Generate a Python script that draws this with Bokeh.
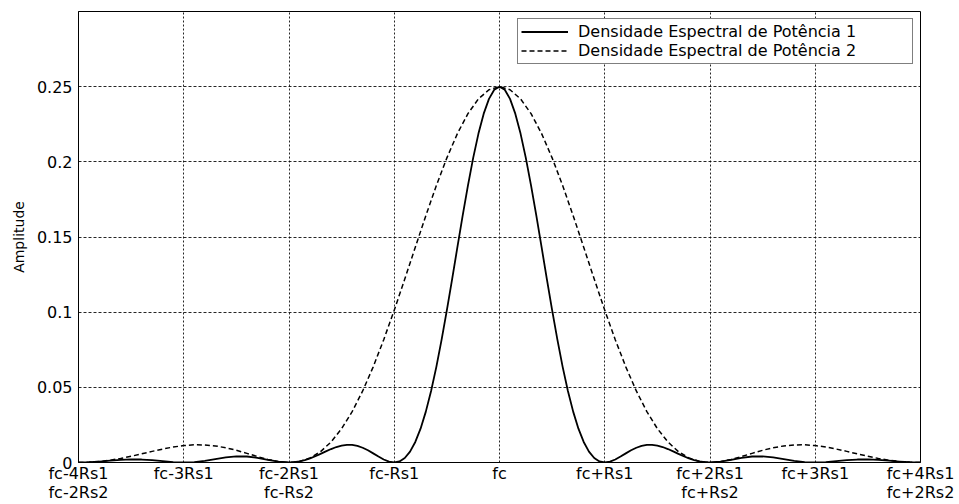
from bokeh.plotting import figure
from bokeh.models import Range1d, FixedTicker, Legend, LegendItem, ColumnDataSource
from bokeh.embed import file_html
from bokeh.resources import INLINE

# frequency offsets from fc, in units of Rs1 (Rs2 = 2*Rs1)
# curve 1 is sampled more finely around its main lobe
offsets1 = ([round(-4 + 0.1 * i, 1) for i in range(20)]
            + [round(-2 + 0.05 * i, 2) for i in range(81)]
            + [round(2.1 + 0.1 * i, 1) for i in range(20)])
offsets2 = [round(-4 + 0.1 * i, 1) for i in range(81)]

# Densidade Espectral de Potência 1
amp1 = [
    0.0, 0.00016, 0.00061, 0.00121, 0.00177, 0.00207, 0.00198, 0.00152, 0.00085, 0.00025,
    0.0, 0.00029, 0.00112, 0.00227, 0.00339, 0.00405, 0.00398, 0.00313, 0.00181, 0.00055,
    0.0, 0.00016, 0.00067, 0.00153, 0.00270, 0.00414, 0.00574, 0.00739, 0.00895, 0.01029,
    0.01126, 0.01175, 0.01169, 0.01103, 0.00981, 0.00811, 0.00608, 0.00395, 0.00200, 0.00056,
    0.0, 0.00069, 0.00299, 0.00723, 0.01367, 0.02252, 0.03384, 0.04760, 0.06364, 0.08169,
    0.10132, 0.12203, 0.14320, 0.16416, 0.18421, 0.20264, 0.21879, 0.23204, 0.24188, 0.24795,
    0.25000,
    0.24795, 0.24188, 0.23204, 0.21879, 0.20264, 0.18421, 0.16416, 0.14320, 0.12203, 0.10132,
    0.08169, 0.06364, 0.04760, 0.03384, 0.02252, 0.01367, 0.00723, 0.00299, 0.00069, 0.0,
    0.00056, 0.00200, 0.00395, 0.00608, 0.00811, 0.00981, 0.01103, 0.01169, 0.01175, 0.01126,
    0.01029, 0.00895, 0.00739, 0.00574, 0.00414, 0.00270, 0.00153, 0.00067, 0.00016, 0.0,
    0.00055, 0.00181, 0.00313, 0.00398, 0.00405, 0.00339, 0.00227, 0.00112, 0.00029, 0.0,
    0.00025, 0.00085, 0.00152, 0.00198, 0.00207, 0.00177, 0.00121, 0.00061, 0.00016, 0.0,
]

# Densidade Espectral de Potência 2
amp2 = [
    0.0, 0.00016, 0.00067, 0.00153, 0.00270, 0.00414, 0.00574, 0.00739, 0.00895, 0.01029,
    0.01126, 0.01175, 0.01169, 0.01103, 0.00981, 0.00811, 0.00608, 0.00395, 0.00200, 0.00056,
    0.0, 0.00069, 0.00299, 0.00723, 0.01367, 0.02252, 0.03384, 0.04760, 0.06364, 0.08169,
    0.10132, 0.12203, 0.14320, 0.16416, 0.18421, 0.20264, 0.21879, 0.23204, 0.24188, 0.24795,
    0.25000,
    0.24795, 0.24188, 0.23204, 0.21879, 0.20264, 0.18421, 0.16416, 0.14320, 0.12203, 0.10132,
    0.08169, 0.06364, 0.04760, 0.03384, 0.02252, 0.01367, 0.00723, 0.00299, 0.00069, 0.0,
    0.00056, 0.00200, 0.00395, 0.00608, 0.00811, 0.00981, 0.01103, 0.01169, 0.01175, 0.01126,
    0.01029, 0.00895, 0.00739, 0.00574, 0.00414, 0.00270, 0.00153, 0.00067, 0.00016, 0.0,
]

x_ticks = [-4, -3, -2, -1, 0, 1, 2, 3, 4]
x_tick_labels = [
    "fc-4Rs1\nfc-2Rs2", "fc-3Rs1", "fc-2Rs1\nfc-Rs2", "fc-Rs1", "fc",
    "fc+Rs1", "fc+2Rs1\nfc+Rs2", "fc+3Rs1", "fc+4Rs1\nfc+2Rs2",
]
y_ticks = [0, 0.05, 0.1, 0.15, 0.2, 0.25]
y_tick_labels = ["0", "0.05", "0.1", "0.15", "0.2", "0.25"]

series_names = ["Densidade Espectral de Potência 1", "Densidade Espectral de Potência 2"]

FONT = "DejaVu Sans"

p = figure(width=959, height=504, output_backend="svg", toolbar_location=None,
           x_range=Range1d(-4, 4), y_range=Range1d(0, 0.3),
           min_border_left=78, min_border_right=39, min_border_top=11, min_border_bottom=42)

p.background_fill_color = "white"
p.border_fill_color = "white"
p.outline_line_color = "black"
p.outline_line_width = 1

src1 = ColumnDataSource(dict(x=offsets1, y=amp1))
src2 = ColumnDataSource(dict(x=offsets2, y=amp2))
r1 = p.line("x", "y", source=src1, line_color="black", line_width=1.8, line_join="round")
r2 = p.line("x", "y", source=src2, line_color="black", line_width=1.5, line_dash="5 3",
            line_join="round")

# axes
p.xaxis.ticker = FixedTicker(ticks=x_ticks)
p.xaxis.major_label_overrides = {t: lab for t, lab in zip(x_ticks, x_tick_labels)}
p.yaxis.ticker = FixedTicker(ticks=y_ticks)
p.yaxis.major_label_overrides = {t: lab for t, lab in zip(y_ticks, y_tick_labels)}

for ax in (p.xaxis[0], p.yaxis[0]):
    ax.major_label_text_font = FONT
    ax.major_label_text_font_size = "16px"
    ax.major_label_text_color = "black"
    ax.major_tick_in = 0
    ax.major_tick_out = 0
    ax.minor_tick_in = 0
    ax.minor_tick_out = 0
    ax.axis_line_color = "black"

p.xaxis.major_label_text_line_height = 1.0
p.xaxis.major_label_standoff = 1
p.yaxis.major_label_standoff = 6

p.yaxis.axis_label = "Amplitude"
p.yaxis.axis_label_text_font = FONT
p.yaxis.axis_label_text_font_size = "14px"
p.yaxis.axis_label_text_font_style = "normal"
p.yaxis.axis_label_text_color = "black"
p.yaxis.axis_label_standoff = 7

# grid
p.xgrid.ticker = FixedTicker(ticks=x_ticks)
p.ygrid.ticker = FixedTicker(ticks=y_ticks)
p.xgrid.grid_line_color = "black"
p.xgrid.grid_line_dash = "2 2"
p.xgrid.grid_line_alpha = 0.85
p.ygrid.grid_line_color = "black"
p.ygrid.grid_line_dash = "3 2"
p.ygrid.grid_line_alpha = 0.85

# legend
legend = Legend(items=[LegendItem(label=series_names[0], renderers=[r1]),
                       LegendItem(label=series_names[1], renderers=[r2])],
                location="top_right")
legend.margin = 7
legend.padding = 3
legend.spacing = 0
legend.glyph_width = 47
legend.glyph_height = 17
legend.label_height = 17
legend.label_width = 331
legend.label_standoff = 10
legend.label_text_font = FONT
legend.label_text_font_size = "16px"
legend.label_text_color = "black"
legend.border_line_color = "black"
legend.border_line_width = 1
legend.background_fill_color = "white"
legend.background_fill_alpha = 1.0
p.add_layout(legend, "center")

open("out.html", "w").write(file_html(p, INLINE))
